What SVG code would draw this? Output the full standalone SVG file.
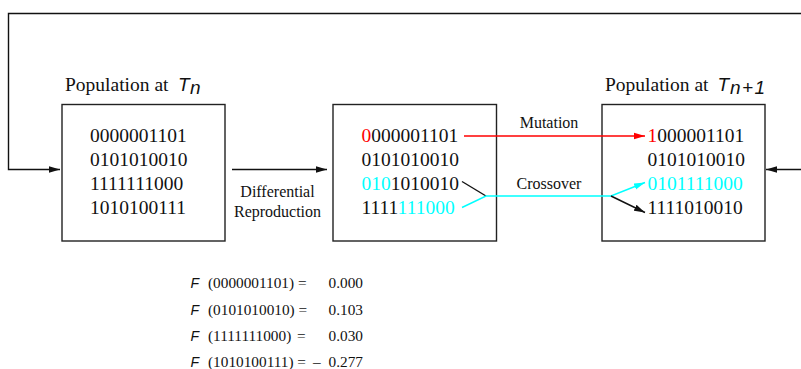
<svg xmlns="http://www.w3.org/2000/svg" width="801" height="369" viewBox="0 0 801 369">
<style>
.box{fill:#fff;stroke:#222;stroke-width:1.4}
.bin{font-family:"Liberation Serif",serif;font-size:19.5px;fill:#111}
.lbl{font-family:"Liberation Serif",serif;font-size:16px;fill:#111}
.pop{font-family:"Liberation Serif",serif;font-size:19.5px;fill:#111}
.it{font-family:"Liberation Sans",sans-serif;font-style:italic;fill:#111}
.fx{font-family:"Liberation Serif",serif;font-size:15.3px;fill:#111}
.r{fill:#ff0000}
.c{fill:#00ffff}
.ln{fill:none;stroke:#111;stroke-width:1.4}
</style>
<defs>
<marker id="ak" markerUnits="userSpaceOnUse" markerWidth="12" markerHeight="8" refX="11" refY="4" orient="auto"><path d="M0,0.8 L11,4 L0,7.2 Z" fill="#111"/></marker>
<marker id="ar" markerUnits="userSpaceOnUse" markerWidth="12" markerHeight="8" refX="11" refY="4" orient="auto"><path d="M0,0.8 L11,4 L0,7.2 Z" fill="#ff0000"/></marker>
<marker id="ac" markerUnits="userSpaceOnUse" markerWidth="12" markerHeight="8" refX="11" refY="4" orient="auto"><path d="M0,0.8 L11,4 L0,7.2 Z" fill="#00ffff"/></marker>
</defs>
<g id="pop-tn">
<text class="pop" x="65" y="90.5">Population at</text>
<text class="it" x="178" y="90.5" font-size="19">T</text>
<text class="it" x="190" y="94" font-size="19">n</text>
<rect class="box" x="62" y="104.5" width="163" height="136.5"/>
<text class="bin" x="90" y="141.5">0000001101</text>
<text class="bin" x="90" y="165.5">0101010010</text>
<text class="bin" x="90" y="189.5">1111111000</text>
<text class="bin" x="90" y="213.5">1010100111</text>
</g>
<g id="intermediate">
<rect class="box" x="333" y="104.5" width="163.5" height="136.5"/>
<text class="bin" x="361.5" y="141.5"><tspan class="r">0</tspan>000001101</text>
<text class="bin" x="361.5" y="165.5">0101010010</text>
<text class="bin" x="361.5" y="189.5"><tspan class="c">010</tspan>1010010</text>
<text class="bin" x="361.5" y="213.5">1111<tspan class="c">111000</tspan></text>
</g>
<g id="pop-tn1">
<text class="pop" x="605" y="90.5">Population at</text>
<text class="it" x="717.5" y="90.5" font-size="19">T</text>
<text class="it" x="730" y="94" font-size="19" textLength="35" lengthAdjust="spacing">n+1</text>
<rect class="box" x="602" y="104.5" width="163" height="136.5"/>
<text class="bin" x="647.5" y="141.5"><tspan class="r">1</tspan>000001101</text>
<text class="bin" x="647.5" y="165.5">0101010010</text>
<text class="bin c" x="647.5" y="189.5">0101111000</text>
<text class="bin" x="647.5" y="213.5">1111010010</text>
</g>
<g id="connectors">
<polyline class="ln" points="801,13.5 8.5,13.5 8.5,169.5 60,169.5" marker-end="url(#ak)"/>
<line class="ln" x1="801" y1="169.5" x2="766" y2="169.5" marker-end="url(#ak)"/>
<line class="ln" x1="232" y1="169.5" x2="327" y2="169.5" marker-end="url(#ak)"/>
<line x1="464" y1="136" x2="645" y2="136" stroke="#ff0000" stroke-width="1.4" marker-end="url(#ar)"/>
<line class="ln" x1="462" y1="181.5" x2="486" y2="196"/>
<polyline points="462,207.5 486,196 611,196 645,182.5" fill="none" stroke="#00ffff" stroke-width="1.4" marker-end="url(#ac)"/>
<line class="ln" x1="611" y1="196" x2="645" y2="212.5" marker-end="url(#ak)"/>
<text class="lbl" x="549" y="127.5" text-anchor="middle">Mutation</text>
<text class="lbl" x="549" y="189" text-anchor="middle">Crossover</text>
<text class="lbl" x="277.5" y="197" text-anchor="middle">Differential</text>
<text class="lbl" x="277.5" y="216.5" text-anchor="middle">Reproduction</text>
</g>
<g id="fitness">
<text class="it" x="190.5" y="288" font-size="14">F</text>
<text class="fx" x="208" y="288">(0000001101) =</text>
<text class="fx" x="363" y="288" text-anchor="end">0.000</text>
<text class="it" x="190.5" y="314.5" font-size="14">F</text>
<text class="fx" x="208" y="314.5">(0101010010) =</text>
<text class="fx" x="363" y="314.5" text-anchor="end">0.103</text>
<text class="it" x="190.5" y="341" font-size="14">F</text>
<text class="fx" x="208" y="341">(1111111000)</text>
<text class="fx" x="297" y="341">=</text>
<text class="fx" x="363" y="341" text-anchor="end">0.030</text>
<text class="it" x="190.5" y="367" font-size="14">F</text>
<text class="fx" x="208" y="367">(1010100111) =</text>
<text class="fx" x="313" y="367">–</text>
<text class="fx" x="363" y="367" text-anchor="end">0.277</text>
</g>
</svg>
